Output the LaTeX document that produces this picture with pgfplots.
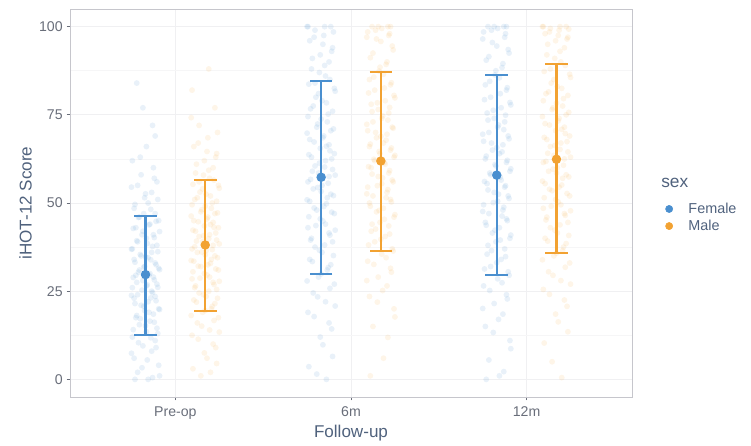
\documentclass[border=0pt]{standalone}
\usepackage{fontspec}
\setmainfont{Liberation Sans}
\usepackage{pgfplots}
\usepackage{pgfplotstable}
\pgfplotsset{compat=1.18}
\usetikzlibrary{calc}
\definecolor{fblue}{HTML}{4A8FCF}
\definecolor{morange}{HTML}{F2A232}
\definecolor{titlecol}{RGB}{80,98,125}
\definecolor{tickcol}{RGB}{105,110,122}
\definecolor{framecol}{RGB}{198,198,204}
\definecolor{gridcol}{RGB}{240,240,242}

\pgfplotstableread{
dxa dxb fpre mpre f6 m6 f12 m12
-0.06 0.03 0 2 0 1 0 0.5
0.04 -0.07 0.5 3 3.6 11.9 2.2 10.3
0.08 0.01 1 6.0 9.8 17.7 8.7 16.3
-0.02 0.06 3.3 9.0 14.3 21.9 13.3 20.7
0.01 -0.04 5.5 11.4 17.8 25.2 17.0 24.1
-0.08 0.08 7.4 13.4 20.8 28.0 20.1 27.0
0.06 -0.02 9.0 15.1 23.4 30.4 22.8 29.5
-0.04 0.05 10.4 16.7 25.8 32.6 25.2 31.8
0.03 -0.08 11.8 18.1 27.9 34.5 27.4 33.9
0.07 0.00 13.0 19.5 29.9 36.4 29.5 35.8
-0.07 0.04 14.1 20.7 31.7 38.1 31.3 37.5
0.00 -0.05 15.2 21.9 33.4 39.7 33.1 39.2
0.05 0.07 16.2 23.0 35.1 41.2 34.8 40.8
-0.03 -0.01 17.2 24.0 36.6 42.6 36.5 42.3
-0.05 0.02 18.1 25.0 38.1 44.0 38.0 43.8
0.02 -0.06 19.0 26.0 39.5 45.4 39.5 45.2
0.08 0.05 19.8 26.9 40.9 46.7 40.9 46.5
-0.01 0.08 20.7 27.8 42.3 47.9 42.3 47.8
-0.06 -0.03 21.5 28.7 43.6 49.1 43.7 49.1
0.06 0.01 22.3 29.6 44.9 50.3 45.0 50.3
0.03 -0.07 23.1 30.5 46.1 51.5 46.3 51.5
-0.08 0.06 23.8 31.3 47.4 52.6 47.6 52.7
0.04 -0.04 24.6 32.1 48.6 53.8 48.8 53.9
-0.02 0.03 25.3 32.9 49.8 54.9 50.1 55.1
0.07 -0.08 26.1 33.7 50.9 56.0 51.3 56.2
0.01 0.07 26.8 34.5 52.1 57.1 52.5 57.4
-0.05 0.00 27.5 35.3 53.3 58.2 53.7 58.5
0.05 -0.02 28.2 36.1 54.4 59.2 54.9 59.6
-0.07 0.04 28.9 36.8 55.6 60.3 56.1 60.7
0.02 -0.06 29.6 37.6 56.7 61.4 57.3 61.8
-0.04 0.08 30.4 38.4 57.9 62.4 58.5 63.0
0.08 -0.05 31.1 39.2 59.0 63.5 59.7 64.1
-0.01 0.02 31.8 39.9 60.2 64.6 60.9 65.2
0.06 -0.01 32.5 40.7 61.3 65.6 62.1 66.3
-0.06 0.06 33.2 41.5 62.5 66.7 63.3 67.4
0.03 -0.07 33.9 42.3 63.7 67.8 64.5 68.6
0.00 0.05 34.7 43.1 64.8 68.9 65.7 69.7
-0.03 0.03 35.4 43.9 66.1 70.0 67.0 70.9
0.07 -0.04 36.2 44.7 67.3 71.2 68.2 72.1
-0.08 0.01 36.9 45.5 68.5 72.3 69.5 73.3
0.04 -0.08 37.7 46.3 69.8 73.5 70.8 74.5
0.01 0.07 38.5 47.2 71.0 74.7 72.1 75.7
-0.05 -0.02 39.3 48.1 72.4 75.9 73.5 77.0
0.05 0.00 40.2 49.1 73.8 77.1 74.9 78.3
-0.02 0.04 41.0 50.0 75.2 78.4 76.3 79.6
0.08 -0.06 41.9 51.0 76.7 79.8 77.8 81.0
-0.07 0.03 42.8 52.0 78.4 81.2 79.3 82.5
0.02 -0.03 43.8 53.1 80.0 82.6 81.0 84.0
0.06 0.08 44.8 54.2 81.7 84.1 82.7 85.6
-0.04 -0.07 45.9 55.3 83.7 85.7 84.5 87.3
-0.01 0.05 47.0 56.5 85.0 87.4 86.3 89.0
0.03 -0.01 48.2 57.9 87.0 89.3 88.4 91.0
-0.06 0.02 49.6 59.3 89.0 91.2 90.5 93.0
0.07 -0.05 51.0 61.0 91.0 93.4 92.5 95.0
0.00 0.06 52.6 63.0 93.0 95.8 94.5 96.5
-0.08 0.01 54.5 64.6 95.0 97.0 96.5 97.5
0.05 -0.04 57.0 67.0 97.0 98.0 98.0 98.5
-0.03 0.07 63.0 70.0 98.5 99.0 99.0 99.3
0.04 -0.08 72.0 74.2 100 100 100 100
-0.05 0.02 84.0 88.0 100 100 100 100
}\jit

\pgfplotstableread{
dxa dxb fpre mpre f6 m6 f12 m12
0.015 -0.025 0 1 1.5 6 1 5
-0.045 0.065 2 4.5 6.5 15 5.5 13.5
0.075 -0.005 4 7.5 12 20 11 18.5
-0.065 0.045 6 10 16 23.5 15 22.5
0.035 -0.075 8 12.5 19 26.5 18.5 25.5
-0.015 0.025 9.5 14 22 29 21.5 28
0.055 -0.045 11 16 24.5 31.5 24 30.5
-0.075 0.075 12 17.5 27 33.5 26.5 33
0.005 -0.015 13.5 19 29 35.5 28.5 35
0.065 0.035 14.5 20 31 37 30.5 36.5
-0.035 0.055 15.5 21.5 32.5 39 32 38.5
0.025 -0.065 16.5 22.5 34 40.5 34 40
-0.055 0.005 17.5 23.5 36 42 35.5 41.5
0.045 -0.035 18.5 24.5 37.5 43.5 37 43
-0.005 0.065 19.5 25.5 39 44.5 39 44.5
0.075 -0.055 20 26.5 40 46 40 46
-0.025 0.045 21 27.5 41.5 47.5 41.5 47
0.015 -0.075 22 28.5 43 48.5 43 48.5
-0.065 0.025 23 29 44 50 44.5 49.5
0.055 -0.005 23.5 30 45.5 51 45.5 51
-0.045 0.075 24 31 47 52 47 52
0.035 -0.025 25 32 48 53 48 53.5
-0.075 0.015 26 32.5 49 54.5 49.5 54.5
0.005 -0.065 26.5 33.5 50.5 55.5 50.5 55.5
0.065 0.035 27 34 51.5 56.5 52 57
-0.015 0.055 28 35 52.5 57.5 53 58
0.045 -0.045 29 36 54 58.5 54.5 59
-0.055 0.005 29.5 36.5 55 60 55.5 60
0.025 -0.075 30 37 56 61 56.5 61.5
-0.035 0.045 31 38 57.5 62 58 62.5
0.075 -0.015 31.5 39 58.5 63 59 63.5
-0.005 0.065 32 39.5 59.5 64 60.5 64.5
0.055 -0.035 33 40.5 60.5 65 61.5 66
-0.065 0.025 34 41 62 66 62.5 67
0.015 -0.055 34.5 42 63 67 64 68
-0.025 0.075 35 43 64 68.5 65 69
0.035 -0.005 36 43.5 65.5 69.5 66.5 70.5
-0.075 0.045 37 44.5 66.5 70.5 67.5 71.5
0.065 -0.065 38 45 68 71.5 69 72.5
-0.045 0.015 39 46 69 73 70 74
0.005 0.055 40 47 70.5 74 71.5 75
0.045 -0.025 41 47.5 71.5 75.5 73 76.5
-0.015 0.035 42 48.5 73 76.5 74 77.5
-0.055 -0.075 43 49.5 74.5 78 75.5 79
0.025 0.065 44 50.5 76 79 77 80.5
0.075 -0.045 45 51.5 77.5 80.5 78.5 81.5
-0.035 0.005 46 52.5 79 82 80 83
0.055 -0.015 47 54 81 83.5 82 85
-0.065 0.075 48.5 55 82.5 85 83.5 86.5
0.015 -0.035 50 56 84 86.5 85.5 88
-0.005 0.025 51.5 57 86 88.5 87.5 90
0.035 -0.055 53 58.5 88 90 89.5 92
-0.045 0.045 55 60 90 92.5 91.5 94
0.065 -0.005 56 62 92 94.5 93.5 96
-0.025 0.065 58 64 94 96.5 95.5 97
0.045 -0.065 60 66 96 97.5 97 98
-0.075 0.015 62 68.5 97.5 98.5 98.5 99
0.005 -0.035 66 72 99 99.5 99.5 99.5
0.055 0.055 69 77 100 100 100 100
-0.015 -0.075 77 82 100 100 100 100
}\jitb

\pgfplotstableread{
x y ep em
0.83 29.7 16.6 17.0
1.83 57.3 27.4 27.4
2.83 57.9 28.5 28.2
}\fstats

\pgfplotstableread{
x y ep em
1.17 38.1 18.4 18.6
2.17 61.9 25.1 25.5
3.17 62.4 26.9 26.5
}\mstats

\pgfplotsset{
  jitf/.style={only marks, mark=*, mark size=2.2pt, color=fblue, forget plot,
    mark options={draw opacity=0, fill=fblue, fill opacity=0.12}},
  jitm/.style={only marks, mark=*, mark size=2.2pt, color=morange, forget plot,
    mark options={draw opacity=0, fill=morange, fill opacity=0.11}},
}

\begin{document}
\begin{tikzpicture}
\begin{axis}[
  scale only axis,
  width=421.5pt, height=291pt,
  xmin=0.4, xmax=3.6, ymin=-5, ymax=105,
  xtick={1,2,3}, xticklabels={Pre-op,6m,12m},
  ytick={0,25,50,75,100},
  minor ytick={12.5,37.5,62.5,87.5},
  grid=both,
  major grid style={draw=gridcol, line width=0.5pt},
  minor grid style={draw=gridcol!60, line width=0.4pt},
  axis line style={draw=framecol, line width=0.7pt},
  tick style={draw=tickcol, line width=0.6pt},
  tick align=outside,
  major tick length=2.5pt,
  minor tick length=0pt,
  xtick pos=bottom, ytick pos=left,
  /pgf/number format/assume math mode=true,
  ticklabel style={font=\fontsize{10.6}{12}\selectfont, text=tickcol},
  xticklabel style={yshift=-1.5pt},
  yticklabel style={xshift=0.5pt},
  xlabel={Follow-up}, ylabel={iHOT-12 Score},
  label style={font=\fontsize{12.8}{14}\selectfont, text=titlecol},
  xlabel style={yshift=2.5pt},
  ylabel style={yshift=-1.5pt},
  legend style={at={(1.054,0.4626)}, anchor=west, draw=none, fill=none,
    font=\fontsize{10.8}{12}\selectfont, text=titlecol,
    row sep=-1.5pt, inner sep=2pt,
    nodes={inner sep=2.5pt}},
  legend cell align=left,
  clip=true,
]
% jittered observations
\addplot[jitf] table[x expr=0.83+\thisrow{dxa}, y=fpre]{\jit};
\addplot[jitf] table[x expr=0.83+\thisrow{dxa}, y=fpre]{\jitb};
\addplot[jitm] table[x expr=1.17+\thisrow{dxb}, y=mpre]{\jit};
\addplot[jitm] table[x expr=1.17+\thisrow{dxb}, y=mpre]{\jitb};
\addplot[jitf] table[x expr=1.83+\thisrow{dxb}, y=f6]{\jit};
\addplot[jitf] table[x expr=1.83+\thisrow{dxb}, y=f6]{\jitb};
\addplot[jitm] table[x expr=2.17+\thisrow{dxa}, y=m6]{\jit};
\addplot[jitm] table[x expr=2.17+\thisrow{dxa}, y=m6]{\jitb};
\addplot[jitf] table[x expr=2.83+\thisrow{dxa}, y=f12]{\jit};
\addplot[jitf] table[x expr=2.83+\thisrow{dxa}, y=f12]{\jitb};
\addplot[jitm] table[x expr=3.17+\thisrow{dxb}, y=m12]{\jit};
\addplot[jitm] table[x expr=3.17+\thisrow{dxb}, y=m12]{\jitb};
% mean +- sd
\addplot[only marks, mark=*, mark size=2.7pt, color=fblue, line width=1.6pt, forget plot,
  error bars/.cd, y dir=both, y explicit,
  error bar style={line width=1.6pt, color=fblue},
  error mark options={rotate=90, mark size=8.5pt, line width=1.5pt, color=fblue}]
  table[x=x, y=y, y error plus=ep, y error minus=em]{\fstats};
\addplot[only marks, mark=*, mark size=2.7pt, color=morange, line width=1.6pt, forget plot,
  error bars/.cd, y dir=both, y explicit,
  error bar style={line width=1.6pt, color=morange},
  error mark options={rotate=90, mark size=8.5pt, line width=1.5pt, color=morange}]
  table[x=x, y=y, y error plus=ep, y error minus=em]{\mstats};
\addlegendimage{legend image code/.code={\fill[fblue] (2.5pt,0pt) circle (2.7pt); \path (14.3pt,0pt);}}
\addlegendentry{Female}
\addlegendimage{legend image code/.code={\fill[morange] (2.5pt,0pt) circle (2.7pt); \path (14.3pt,0pt);}}
\addlegendentry{Male}
\end{axis}
\node[anchor=west, font=\fontsize{13}{14}\selectfont, text=titlecol, inner sep=0pt]
  at ($(current axis.south east)+(21.75pt,160.5pt)$) {sex};
\path[use as bounding box] ($(current axis.south west)+(-52.5pt,-33pt)$) rectangle ($(current axis.north east)+(89.25pt,6.75pt)$);
\end{tikzpicture}
\end{document}
